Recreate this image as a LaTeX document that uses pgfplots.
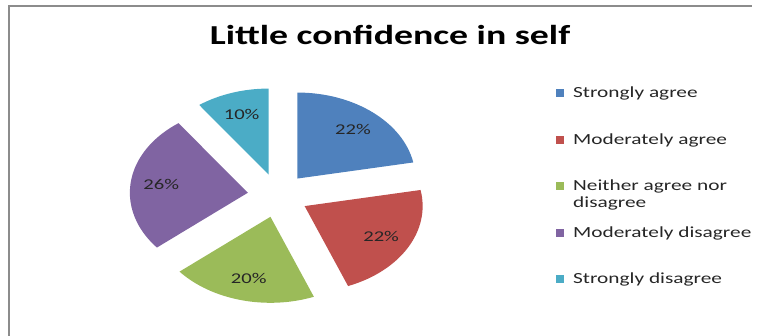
\documentclass[border=0pt]{standalone}
\usepackage{pgfplots}
\pgfplotsset{compat=1.18}
\usepackage{pgfplotstable}
\usepackage{fontspec}
\setmainfont{Carlito}[FakeStretch=1.38]
\definecolor{c0}{HTML}{4F81BD}
\definecolor{c1}{HTML}{C0504D}
\definecolor{c2}{HTML}{9BBB59}
\definecolor{c3}{HTML}{8064A2}
\definecolor{c4}{HTML}{4BACC6}
\definecolor{frame}{HTML}{8C8C8C}

\pgfplotstableread{
value
22
22
20
26
10
}\piedata

\begin{document}
\begin{tikzpicture}
\useasboundingbox (0,0) rectangle (761bp,336bp);
\def\cum{0}
\pgfplotsforeachungrouped \i in {0,...,4}{%
  \pgfplotstablegetelem{\i}{value}\of\piedata
  \let\val\pgfplotsretval
  \pgfmathsetmacro\pa{90-3.6*\cum}%
  \pgfmathsetmacro\pb{90-3.6*(\cum+\val)}%
  \pgfmathsetmacro\pm{(\pa+\pb)/2}%
  \pgfmathsetmacro\vx{278+30.4*cos(\pm)}%
  \pgfmathsetmacro\vy{140.5+22*sin(\pm)}%
  \pgfmathsetmacro\sx{118*cos(\pa)}%
  \pgfmathsetmacro\sy{86*sin(\pa)}%
  \pgfmathsetmacro\lx{\vx+0.74*118*cos(\pm)}%
  \pgfmathsetmacro\ly{\vy+0.74*86*sin(\pm)}%
  \expandafter\xdef\csname pa\i\endcsname{\pa}%
  \expandafter\xdef\csname pb\i\endcsname{\pb}%
  \expandafter\xdef\csname vx\i\endcsname{\vx}%
  \expandafter\xdef\csname vy\i\endcsname{\vy}%
  \expandafter\xdef\csname sx\i\endcsname{\sx}%
  \expandafter\xdef\csname sy\i\endcsname{\sy}%
  \expandafter\xdef\csname lx\i\endcsname{\lx}%
  \expandafter\xdef\csname ly\i\endcsname{\ly}%
  \expandafter\xdef\csname pv\i\endcsname{\val}%
  \pgfmathsetmacro\cum{\cum+\val}%
}
\begin{axis}[at={(0,0)}, anchor=south west, scale only axis,
  width=761bp, height=336bp, xmin=0, xmax=761, ymin=0, ymax=336,
  hide axis, clip=false]
\pgfplotsinvokeforeach{0,...,4}{
  \fill[c#1] (axis cs:\csname vx#1\endcsname,\csname vy#1\endcsname)
    -- +(\csname sx#1\endcsname bp,\csname sy#1\endcsname bp)
    arc[start angle=\csname pa#1\endcsname, end angle=\csname pb#1\endcsname,
        x radius=118bp, y radius=86bp] -- cycle;
  \node[font=\fontsize{15}{18}\selectfont, text=black!85]
    at (axis cs:\csname lx#1\endcsname,\csname ly#1\endcsname) {\csname pv#1\endcsname\%};
}
\end{axis}
% frame
\draw[frame, line width=2bp] (9bp,0) -- (9bp,330bp) -- (752bp,330bp);
% title
\node[anchor=base, font=\fontsize{27.5}{33}\selectfont\bfseries] at (390bp,291bp) {Little confidence in self};
% legend
\begin{scope}[every node/.style={anchor=base west, inner sep=0pt, font=\fontsize{15.5}{18.5}\selectfont, text=black!85}]
\fill[c0] (556bp,239bp) rectangle (564bp,247bp);
\node at (573bp,238bp) {Strongly agree};
\fill[c1] (556bp,192bp) rectangle (564bp,200bp);
\node at (573bp,191bp) {Moderately agree};
\fill[c2] (556bp,146bp) rectangle (564bp,154bp);
\node at (573bp,145bp) {Neither agree nor};
\node at (573bp,128bp) {disagree};
\fill[c3] (556bp,99bp) rectangle (564bp,107bp);
\node at (573bp,98bp) {Moderately disagree};
\fill[c4] (556bp,53bp) rectangle (564bp,61bp);
\node at (573bp,52bp) {Strongly disagree};
\end{scope}
\end{tikzpicture}
\end{document}
